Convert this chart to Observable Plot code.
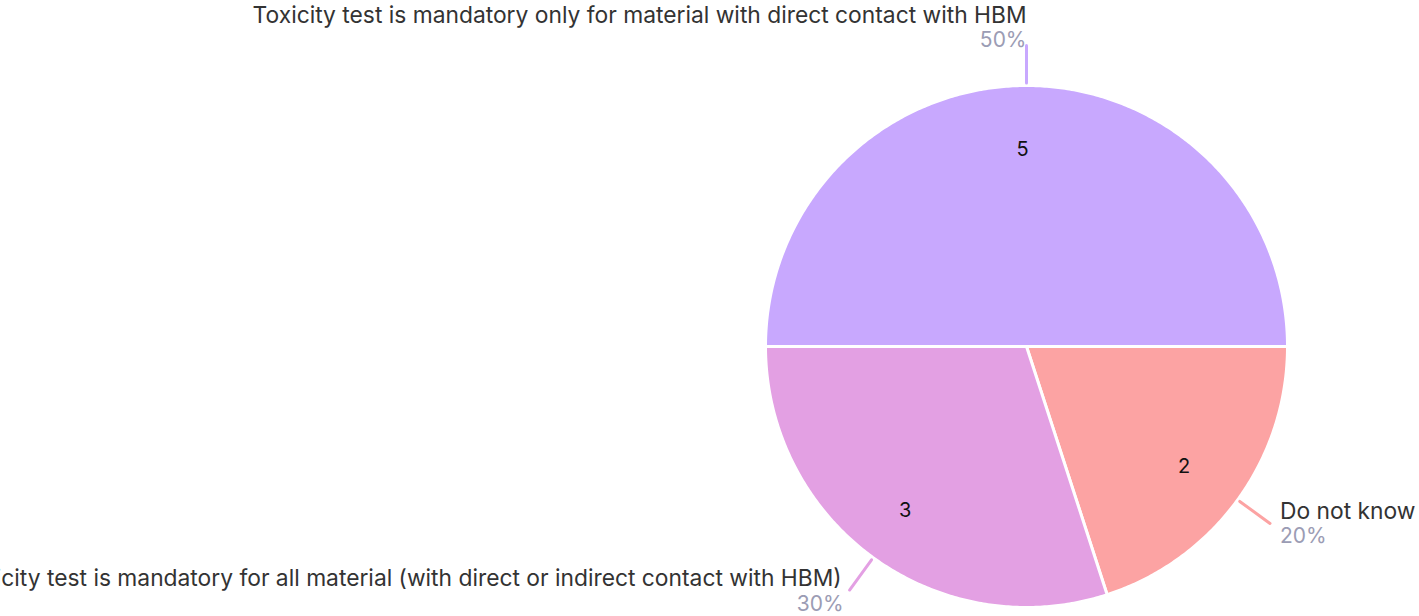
<!DOCTYPE html>
<html>
<head>
<meta charset="utf-8">
<script src="https://cdn.jsdelivr.net/npm/d3@7"></script>
<script src="https://cdn.jsdelivr.net/npm/@observablehq/plot@0.6"></script>
<style>
  html, body { margin: 0; padding: 0; background: #fff; overflow: hidden; }
  #chart svg { overflow: visible; display: block; }
</style>
</head>
<body>
<div id="chart"></div>
<script>
const categories = [
  "Toxicity test is mandatory only for material with direct contact with HBM",
  "Do not know",
  "Toxicity test is mandatory for all material (with direct or indirect contact with HBM)"
];
const counts = [5, 2, 3];
const colors = ["#c8a8fe", "#fca3a3", "#e3a0e3"];

const W = 1419, H = 616;
const CX = 1026, CY = 346, R = 261;
const total = d3.sum(counts);

const arcs = d3.pie().sort(null).startAngle(-Math.PI / 2).endAngle(1.5 * Math.PI)(counts);

// polygon outline of each slice in unit-radius coordinates (y up)
const slicePts = [];
arcs.forEach((a, i) => {
  const n = Math.max(2, Math.ceil((a.endAngle - a.startAngle) / (Math.PI / 360)));
  slicePts.push({cat: categories[i], x: 0, y: 0});
  for (let k = 0; k <= n; k++) {
    const t = a.startAngle + (a.endAngle - a.startAngle) * k / n;
    slicePts.push({cat: categories[i], x: Math.sin(t), y: Math.cos(t)});
  }
  slicePts.push({cat: categories[i], x: 0, y: 0});
});

const px = v => v / R;
const inner = [], leaders = [], names = [], pcts = [];
arcs.forEach((a, i) => {
  const m = (a.startAngle + a.endAngle) / 2;
  const sx = Math.sin(m), sy = Math.cos(m);
  inner.push({x: sx * 0.765 - px(4), y: sy * 0.765 - px(3), t: String(counts[i])});
  const r0 = 1.01, r1 = 301 / R;
  leaders.push({cat: categories[i], x: sx * r0, y: sy * r0});
  leaders.push({cat: categories[i], x: sx * r1, y: sy * r1});
  const ex = sx * r1, ey = sy * r1;
  const pct = Math.round(counts[i] / total * 100) + "%";
  let anchor, nx, ny, qx, qy;
  if (Math.abs(sx) < 0.2) { anchor = "end"; nx = 0; ny = 30; qx = 0; qy = 5; }
  else if (sx > 0) { anchor = "start"; nx = 10; ny = 12; qx = 10; qy = -13; }
  else { anchor = "end"; nx = -8; ny = 11; qx = -6; qy = -14; }
  names.push({x: ex + px(nx), y: ey + px(ny), t: categories[i], anchor});
  pcts.push({x: ex + px(qx), y: ey + px(qy), t: pct, anchor});
});

const font = "Inter, 'Noto Sans', sans-serif";
const textMarks = (data, opts) => ["start", "end", "middle"].map(an =>
  Plot.text(data.filter(d => d.anchor === an), {x: "x", y: "y", text: "t", textAnchor: an, lineAnchor: "middle", fontFamily: font, ...opts})
);

const plot = Plot.plot({
  width: W, height: H,
  margin: 0,
  x: {domain: [-CX / R, (W - CX) / R], range: [0, W], axis: null},
  y: {domain: [-(H - CY) / R, CY / R], range: [H, 0], axis: null},
  color: {domain: categories, range: colors},
  style: {background: "#fff"},
  marks: [
    Plot.line(slicePts, {x: "x", y: "y", z: "cat", fill: "cat", stroke: "#fff", strokeWidth: 3, strokeLinejoin: "round", curve: "linear"}),
    Plot.line(leaders, {x: "x", y: "y", z: "cat", stroke: "cat", strokeWidth: 3}),
    Plot.text(inner, {x: "x", y: "y", text: "t", fill: "#111", fontSize: 20, fontFamily: font}),
    ...textMarks(names, {fill: "#333", fontSize: 22.8}),
    ...textMarks(pcts, {fill: "#9b9cb4", fontSize: 21})
  ]
});
document.getElementById("chart").appendChild(plot);
</script>
</body>
</html>
